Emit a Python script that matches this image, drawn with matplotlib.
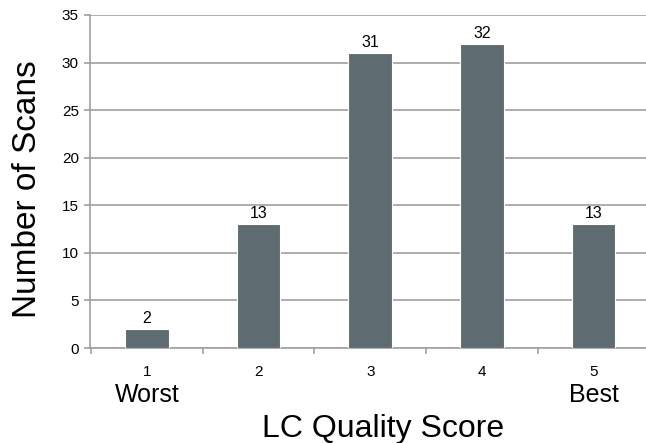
import matplotlib
matplotlib.use("agg")
import matplotlib.pyplot as plt
from matplotlib.transforms import blended_transform_factory

scores = [1, 2, 3, 4, 5]
scans = [2, 13, 31, 32, 13]
end_labels = {1: "Worst", 5: "Best"}

plt.rcParams['font.family'] = ['Liberation Sans', 'DejaVu Sans']

bar_color = "#5e6b71"
grid_color = "#a0a0a0"

fig = plt.figure(figsize=(6.46, 4.43), dpi=100)
ax = fig.add_axes([90 / 646, 95 / 443, 1 - 90 / 646, 333 / 443])

bars = ax.bar(scores, scans, width=0.39, color=bar_color,
              edgecolor="white", linewidth=0.8, zorder=3)
for b, v in zip(bars, scans):
    ax.text(b.get_x() + b.get_width() / 2, v + 0.3, str(v),
            ha="center", va="bottom", fontsize=11.5)

ax.set_ylim(0, 35)
ax.set_xlim(0.49, 5.47)
ax.set_yticks(range(0, 36, 5))
ax.yaxis.grid(True, color=grid_color, linewidth=1.2, zorder=0)

ax.set_xticks(scores)
ax.set_xticks([0.5, 1.5, 2.5, 3.5, 4.5], minor=True)
ax.tick_params(axis="x", which="major", length=0, pad=12, labelsize=11)
ax.tick_params(axis="x", which="minor", length=4, color=grid_color, width=1.2)
ax.tick_params(axis="y", length=4, color=grid_color, width=1.2, labelsize=11, pad=4)

for side in ["top", "right"]:
    ax.spines[side].set_visible(False)
for side in ["left", "bottom"]:
    ax.spines[side].set_color(grid_color)
    ax.spines[side].set_linewidth(1.2)

trans = blended_transform_factory(ax.transData, ax.transAxes)
for x, label in end_labels.items():
    ax.text(x, -0.14, label, transform=trans, ha="center", va="center",
            fontsize=18)

ax.set_xlabel("LC Quality Score", fontsize=23)
ax.set_ylabel("Number of Scans", fontsize=24)
ax.xaxis.set_label_coords(0.527, -0.198, transform=ax.transAxes)
ax.yaxis.set_label_coords(-0.12, 0.477, transform=ax.transAxes)
ax.xaxis.label.set_va("top")
ax.yaxis.label.set_va("center")
ax.yaxis.label.set_ha("center")
ax.yaxis.set_label_coords(-0.12 + 4 / 556, 0.477, transform=ax.transAxes)

fig.savefig("out.png", dpi=100)
